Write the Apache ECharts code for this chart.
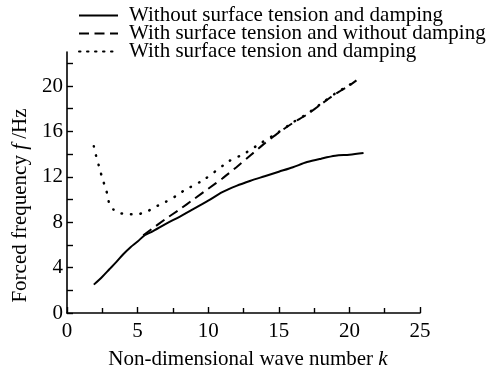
<!DOCTYPE html>
<html>
<head>
<meta charset="utf-8">
<script src="https://cdn.jsdelivr.net/npm/echarts@6/dist/echarts.min.js"></script>
<style>
html,body{margin:0;padding:0;background:#fff;}
#main{width:494px;height:370px;}
</style>
</head>
<body>
<div id="main"></div>
<script>
// ---- data ----
const seriesNames = [
  'Without surface tension and damping',
  'With surface tension and without damping',
  'With surface tension and damping'
];
const solidK = [1.9, 2.5, 3, 3.5, 4, 4.5, 5, 5.5, 6, 7, 8, 9, 10, 11, 12, 13, 14, 15, 16, 17, 18, 19, 20, 21];
const solidF = [2.5, 3.2, 3.85, 4.5, 5.2, 5.8, 6.3, 6.85, 7.15, 7.85, 8.5, 9.2, 9.9, 10.65, 11.2, 11.65, 12.05, 12.45, 12.85, 13.3, 13.6, 13.85, 13.95, 14.1];
const dashK = [5.4, 6, 7, 8, 9, 10, 11, 12, 13, 14, 15, 16, 17, 18, 19, 20, 20.5];
const dashF = [6.85, 7.4, 8.3, 9.15, 10.05, 10.95, 11.85, 12.85, 13.9, 14.95, 15.9, 16.75, 17.5, 18.4, 19.3, 20.05, 20.5];
const dotK = [1.9, 2.05, 2.25, 2.45, 2.65, 2.85, 3.0, 3.3, 3.6, 4.25, 4.95, 5.6, 6.25, 7.0, 7.7, 8.3, 9.7, 11.5, 12.5, 13.7, 15, 16, 17, 18, 19, 20, 20.5];
const dotF = [14.7, 13.9, 13.0, 12.1, 11.3, 10.5, 9.6, 9.1, 8.85, 8.7, 8.7, 8.9, 9.35, 9.8, 10.3, 10.8, 11.75, 13.4, 14.0, 14.95, 15.95, 16.8, 17.55, 18.45, 19.35, 20.1, 20.55];
const xTickLabels = [0, 5, 10, 15, 20, 25];
const yTickLabels = [0, 4, 8, 12, 16, 20];
const yTicks = [0, 2, 4, 6, 8, 10, 12, 14, 16, 18, 20, 22];

const zip = (a, b) => a.map((v, i) => [v, b[i]]);
const FONT = '"Liberation Serif", "Times New Roman", serif';
const hiddenSymbol = {color: 'rgba(0,0,0,0)', opacity: 0, borderWidth: 0};

const chart = echarts.init(document.getElementById('main'), null, {renderer: 'canvas'});
chart.setOption({
  animation: false,
  backgroundColor: '#fff',
  textStyle: {fontFamily: FONT, color: '#000'},
  grid: {left: 67, right: 74, top: 52, bottom: 57, containLabel: false, outerBoundsMode: 'none'},
  legend: {
    orient: 'vertical',
    left: 78,
    top: 5,
    padding: 0,
    itemWidth: 39,
    itemHeight: 14,
    itemGap: -3,
    textStyle: {fontFamily: FONT, fontSize: 21, color: '#000', padding: [0, 0, 0, 6]},
    data: [
      {name: seriesNames[0], lineStyle: {type: 'solid', width: 2, color: '#000'}, itemStyle: hiddenSymbol},
      {name: seriesNames[1], lineStyle: {type: [10, 5.5], width: 2, color: '#000'}, itemStyle: hiddenSymbol},
      {name: seriesNames[2], lineStyle: {type: [1.5, 6.5], width: 2, color: '#000'}, itemStyle: hiddenSymbol}
    ]
  },
  xAxis: {
    type: 'value', min: 0, max: 25, interval: 5,
    name: '{n|Non-dimensional wave number }{i|k}',
    nameLocation: 'middle', nameGap: 36,
    nameTextStyle: {
      padding: [0, 0, 0, 9],
      rich: {
        n: {fontFamily: FONT, fontSize: 21, color: '#000'},
        i: {fontFamily: FONT, fontSize: 21, color: '#000', fontStyle: 'italic'}
      }
    },
    axisLine: {lineStyle: {color: '#000', width: 1.6}},
    axisTick: {inside: true, length: 6, lineStyle: {color: '#000', width: 1.4}},
    minorTick: {show: true, splitNumber: 2, length: 5, lineStyle: {color: '#000', width: 1.4}},
    axisLabel: {fontFamily: FONT, fontSize: 21, color: '#000', margin: 8,
      formatter: v => xTickLabels.includes(v) ? String(v) : ''},
    splitLine: {show: false}
  },
  yAxis: {
    type: 'value', min: 0, max: 23,
    name: '{n|Forced frequency }{i|f}{n| /Hz}',
    nameLocation: 'middle', nameGap: 36, nameRotate: 90,
    nameTextStyle: {
      padding: [0, 46, 0, 0],
      rich: {
        n: {fontFamily: FONT, fontSize: 21, color: '#000'},
        i: {fontFamily: FONT, fontSize: 21, color: '#000', fontStyle: 'italic'}
      }
    },
    axisLine: {lineStyle: {color: '#000', width: 1.6}},
    axisTick: {inside: true, length: 6, customValues: yTicks, lineStyle: {color: '#000', width: 1.4}},
    axisLabel: {fontFamily: FONT, fontSize: 21, color: '#000', margin: 4, customValues: yTickLabels},
    splitLine: {show: false}
  },
  series: [
    {name: seriesNames[0], type: 'line', data: zip(solidK, solidF), showSymbol: false, symbol: 'none', smooth: 0.3,
     lineStyle: {color: '#000', width: 2, type: 'solid'}, itemStyle: {color: '#000'}},
    {name: seriesNames[1], type: 'line', data: zip(dashK, dashF), showSymbol: false, symbol: 'none', smooth: 0.2,
     lineStyle: {color: '#000', width: 2, type: [10, 6]}, itemStyle: {color: '#000'}},
    {name: seriesNames[2], type: 'line', data: zip(dotK, dotF), showSymbol: false, symbol: 'none', smooth: 0.2,
     lineStyle: {color: '#000', width: 2.5, type: [0.5, 9], cap: 'round'}, itemStyle: {color: '#000'}}
  ]
});
</script>
</body>
</html>
